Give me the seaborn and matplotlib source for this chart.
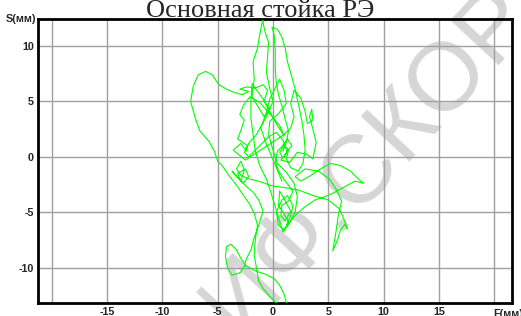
import matplotlib
matplotlib.use("Agg")
import matplotlib.pyplot as plt
import seaborn as sns
import pandas as pd

# Trajectory of the centre of pressure (F, S in mm)
path_f = [0.9, 1.2, 1.4, 1.1, 0.8, 0.5, 0.3, 0.2, 0.2, 0.1, -0.1, 0.4, 0.8, 1.1, 1.3, 1.7, 2.0, 2.3, 2.6, 2.8,
          2.9, 2.7, 2.3, 1.6, 1.2, 1.4, 1.0, 0.6, 0.9, 1.3, 1.7, 1.3, 0.8, 0.4, 0.2, 0.5, 1.1, 1.8, 1.4, 0.8,
          0.7, 1.1, 1.6, 1.0, 0.6, 0.5, 0.9, 1.4, 1.0, 0.5, 0.3, 0.8, 1.3, 1.8, 1.6, 1.2,
          2.0, 2.9, 3.8, 4.7, 5.6, 6.5, 7.4, 8.2, 7.7, 7.0, 6.1, 5.2, 4.3, 3.4, 2.5, 2.0, 2.9, 4.1, 5.1, 5.8,
          6.2, 5.9, 5.7, 5.5, 5.4, 5.8, 6.1, 6.5, 6.7, 6.4, 6.0, 5.0, 3.6, 2.3, 1.1, -0.2, -1.3, -2.2, -2.9,
          -3.3, -2.9, -2.6, -2.9, -3.2, -2.5, -2.2, -2.7, -3.3, -3.7,
          -2.5, -1.8, -1.3, -0.9, -1.3, -1.7, -2.0, -2.4, -2.6, -2.95, -3.7, -4.1, -4.3, -4.2, -3.8, -3.3,
          -2.9, -2.5, -1.6, -0.7, 0.1, 0.6, 1.0, 1.3, 1.4, 0.9, 0.4, -0.3, -0.9, -1.3, -1.5, -1.7, -1.6,
          -1.4, -1.7, -2.1, -2.6, -3.2, -3.9, -4.6, -5.0,
          -5.3, -5.8, -6.6, -7.0, -7.45, -7.2, -6.75, -6.1, -5.5, -4.9, -4.2, -3.5, -2.8, -2.2, -3.0, -2.4,
          -1.6, -0.9, -0.5, -0.8, -0.3, -0.8, -1.4, -1.9,
          -1.7, -1.8, -1.4, -1.2, -0.95, -0.7, -0.4, -0.5, -0.6, -0.3, 0.0, -0.5, -1.0, -1.5, -2.2, -2.6,
          -2.2, -1.6, -1.0, -0.4, 0.3, 0.9, 1.3, 0.7, 1.5, 2.2, 3.1, 3.6,
          3.9, 3.6, 3.3, 3.5, 3.6, 3.1, 2.9, 2.5, 1.9, 1.6, 1.9, 1.6, 1.0,
          -0.5, -1.6, -2.5, -3.6, -2.9, -2.4, -2.3, -3.2, -2.9, -2.6, -3.0, -2.7, -2.1, -1.2, -0.3, 0.6, 1.0,
          0.4, -0.2, -0.9, -1.9, -2.0, -2.0, -1.8, -1.6, -1.2, -0.6, -0.2, 0.2, 0.6, 0.9, 1.5, 2.0, 2.2, 1.9,
          1.2, 0.4, 0.0, -0.4, -0.3, 0.5, 1.2, 1.0, 0.6, 0.2, -0.3, -0.6, -1.1, -0.7, -0.2, 0.3, 0.8]
path_s = [0.5, 1.3, 2.3, 3.4, 4.6, 5.6, 6.6, 8.0, 9.6, 11.0, 11.7, 11.5, 10.8, 9.8, 8.6, 7.2, 6.1, 4.7, 3.3, 1.9,
          0.6, -0.6, -1.3, -1.0, -0.2, 0.6, 1.0, 0.4, -0.1, 0.5, 1.0, 1.6, 0.9, 0.5, -0.4, -1.3, -2.2, -3.1, -4.0, -4.4,
          -5.3, -5.8, -4.9, -3.8, -3.1, -4.4, -5.0, -5.9, -6.6, -6.2, -5.0, -3.9, -3.5, -4.4, -5.3, -6.2,
          -5.3, -4.5, -3.9, -3.6, -3.2, -2.7, -2.2, -2.4, -2.0, -1.3, -0.8, -0.6, -1.1, -1.7, -2.2, -1.8, -1.1, -1.3, -2.0, -3.1,
          -4.0, -5.3, -6.7, -7.9, -8.5, -7.6, -6.6, -6.1, -6.5, -5.6, -4.7, -3.9, -3.5, -3.0, -2.8, -2.6, -2.2, -2.0, -1.7,
          -1.1, -0.4, -1.2, -2.2, -1.5, -1.1, -1.8, -2.4, -1.8, -1.3,
          -2.6, -3.2, -3.9, -4.9, -6.2, -7.3, -8.4, -9.2, -9.9, -10.45, -10.7, -10.1, -9.0, -8.1, -7.9, -8.4,
          -9.2, -9.8, -10.3, -10.6, -11.0, -11.6, -12.4, -13.5, -14.0, -13.8, -13.3, -12.6, -11.9, -11.2, -10.0, -8.9, -7.5,
          -6.2, -5.1, -4.3, -3.6, -2.7, -1.8, -0.8, -0.4,
          0.5, 1.4, 2.3, 3.4, 5.0, 6.4, 7.4, 7.7, 7.4, 6.5, 6.1, 5.8, 5.6, 5.9, 6.1, 6.3,
          6.2, 6.5, 6.0, 5.0, 4.3, 3.6, 4.6, 5.4,
          7.0, 8.6, 9.8, 11.0, 12.3, 11.2, 10.3, 9.0, 7.6, 6.2, 5.0, 3.8, 2.9, 2.0, 1.2, 0.4,
          0.0, 0.6, 1.2, 1.8, 2.2, 1.5, 0.4, -0.3, -0.5, 0.4, 0.2, -0.2,
          1.3, 2.5, 3.6, 4.3, 3.3, 3.0, 4.1, 5.3, 6.0, 4.8, 3.6, 2.6, 2.0,
          1.0, 0.3, -0.3, 0.6, 1.2, 0.5, 1.0, 1.6, 2.4, 3.3, 3.8, 4.6, 5.4, 4.9, 3.9, 2.8, 1.9,
          2.8, 3.9, 5.2, 6.6, 5.0, 3.5, 2.0, 0.5, -0.8, -2.0, -3.2, -4.5, -5.8, -6.8, -6.0, -5.0, -3.6, -2.4,
          -1.4, -0.6, 0.6, 2.0, 3.2, 3.9, 4.8, 6.0, 7.0, 6.2, 5.2, 4.0, 2.6, 1.4, 0.2, -1.0, -2.2]

x_ticks = [-20, -15, -10, -5, 0, 5, 10, 15, 20]
x_labels = ["", "-15", "-10", "-5", "0", "5", "10", "15", ""]
y_ticks = [-10, -5, 0, 5, 10]
y_labels = ["-10", "-5", "0", "5", "10"]
title = "Основная стойка РЭ"
x_name = "F(мм)"
y_name = "S(мм)"
watermark = "ИФ.СКОР"

df = pd.DataFrame({"F": path_f, "S": path_s})

sns.set_style("white")
plt.rcParams["font.family"] = ["Liberation Sans", "DejaVu Sans"]

fig = plt.figure(figsize=(5.21, 3.16), dpi=100)
ax = fig.add_axes([38 / 521, 1 - 303 / 316, (511.7 - 38) / 521, (303 - 19) / 316])

ax.set_xlim(-21.24, 21.57)
ax.set_ylim(-13.2, 12.43)
ax.set_xticks(x_ticks)
ax.set_xticklabels(x_labels, fontsize=7.8, fontweight="bold")
ax.set_yticks(y_ticks)
ax.set_yticklabels(y_labels, fontsize=7.8, fontweight="bold")
ax.tick_params(length=0, pad=3)
ax.grid(True, color="#a0a0a0", lw=1.0)
ax.set_axisbelow(True)
for sp in ax.spines.values():
    sp.set_visible(True)
    sp.set_color("black")
    sp.set_linewidth(2)

fig.text(368 / 521, 1 - 160 / 316, watermark, rotation=47, fontsize=70,
         color="#d6d6d6", ha="center", va="center", family=["Liberation Sans", "DejaVu Sans"],
         zorder=1.5)

sns.lineplot(data=df, x="F", y="S", sort=False, estimator=None, color="#00ff00", lw=0.8, ax=ax, zorder=3)
ax.set_xlabel("")
ax.set_ylabel("")
ax.patch.set_alpha(0)
ax.set_zorder(2)

ax.text(-0.004, 1.0, y_name, transform=ax.transAxes, ha="right", va="center",
        fontsize=7.8, fontweight="bold")
ax.text(1.025, -0.02, x_name, transform=ax.transAxes, ha="right", va="top",
        fontsize=7.8, fontweight="bold", clip_on=False)

fig.text(0.499, 1 - 17 / 316, title, ha="center", va="baseline", fontsize=19,
         family=["Liberation Serif", "DejaVu Serif"])

fig.savefig("out.png", dpi=100, facecolor="white")
